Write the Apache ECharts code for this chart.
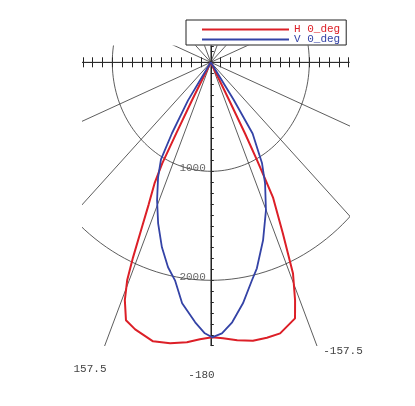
<!DOCTYPE html>
<html>
<head>
<meta charset="utf-8">
<script src="https://cdn.jsdelivr.net/npm/echarts@6/dist/echarts.min.js"></script>
<style>
html, body { margin: 0; padding: 0; background: #fff; }
#chart { width: 415px; height: 406px; }
</style>
</head>
<body>
<div id="chart"></div>
<script>
// angle from nadir in degrees (negative = 157.5 side), intensity in cd
const hAngles = [-30, -28.7, -28.3, -28, -27.2, -25.8, -24.8, -23.8, -23, -21.8, -20, -17.4, -12.9, -9.1, -5.4, -2.5, 0.3, 2.8, 6, 9.5, 12.7, 15.8, 20, 21.4, 23.3, 25, 27, 27.3, 27.6, 28, 28.2, 30];
const hValues = [0, 400, 740, 1050, 1250, 1450, 1667, 1956, 2173, 2350, 2518, 2568, 2626, 2611, 2580, 2543, 2523, 2535, 2565, 2590, 2590, 2585, 2500, 2345, 2110, 1730, 1390, 1190, 1010, 740, 400, 0];
const vAngles = [-35, -33.5, -31.2, -29.6, -26.9, -23.3, -19.9, -16.3, -13, -10.3, -7.5, -3.8, -1.4, 0.3, 2.6, 5.2, 8.4, 11.8, 13.9, 18, 22.4, 26.4, 29.3, 33, 34, 35];
const vValues = [0, 419, 761, 1024, 1183, 1379, 1571, 1768, 1930, 2033, 2230, 2391, 2487, 2523, 2489, 2395, 2235, 2043, 1947, 1717, 1469, 1239, 1063, 779, 415, 0];
const ringValues = [1000, 2000];
const spokeStep = 22.5;
const angleLabels = ["157.5", "-180", "-157.5"];
const seriesNames = ["H 0_deg", "V 0_deg"];
const colors = ["#dc1f27", "#3443a6"];

// centre of the diagram and px per cd (the picture is a bit squeezed in x)
const cx = 210.8, cy = 62.3, sx = 0.0985, sy = 0.109;
const xMin = -1300, xMax = 1400, yMin = -2600, yMax = 150;
const mono = '"Liberation Mono", "DejaVu Sans Mono", monospace';

function toXY(deg, r) {
  const a = deg * Math.PI / 180;
  return [r * Math.sin(a), -r * Math.cos(a)];
}

const gridLine = { color: "#333", width: 0.8 };
const series = [];
ringValues.forEach(function (r) {
  const pts = [];
  for (let d = 0; d <= 360; d += 2) pts.push(toXY(d, r));
  series.push({ type: "line", data: pts, symbol: "none", silent: true, lineStyle: gridLine, z: 1 });
});
for (let d = 0; d < 360; d += spokeStep) {
  series.push({ type: "line", data: [[0, 0], toXY(d, 4000)], symbol: "none", silent: true, lineStyle: gridLine, z: 1 });
}
series.push({
  type: "scatter",
  data: ringValues.map(function (r) { return [0, -r]; }),
  symbolSize: 0,
  silent: true,
  label: {
    show: true, position: "left", distance: 5, offset: [0, -3],
    formatter: function (p) { return String(-p.value[1]); },
    fontFamily: mono, fontSize: 11, color: "#444"
  },
  z: 2
});
series.push({
  name: seriesNames[0], type: "line", symbol: "none",
  data: hAngles.map(function (a, i) { return toXY(a, hValues[i]); }),
  lineStyle: { color: colors[0], width: 2 }, itemStyle: { color: colors[0] }, z: 3
});
series.push({
  name: seriesNames[1], type: "line", symbol: "none",
  data: vAngles.map(function (a, i) { return toXY(a, vValues[i]); }),
  lineStyle: { color: colors[1], width: 1.8 }, itemStyle: { color: colors[1] }, z: 4
});

const axisBase = {
  type: "value", interval: 100, min: xMin, max: xMax,
  axisLabel: { show: false },
  splitLine: { show: false }
};

const myChart = echarts.init(document.getElementById("chart"));
myChart.setOption({
  animation: false,
  backgroundColor: "#fff",
  grid: {
    left: cx + xMin * sx,
    top: cy - yMax * sy,
    width: (xMax - xMin) * sx,
    height: (yMax - yMin) * sy
  },
  xAxis: [
    Object.assign({}, axisBase, {
      position: "bottom",
      axisLine: { onZero: true, lineStyle: { color: "#222", width: 1 } },
      axisTick: { show: true, length: 5, lineStyle: { color: "#222" } }
    }),
    // upper half of the cross ticks, pulled down onto the 90/-90 line
    Object.assign({}, axisBase, {
      position: "top", offset: -yMax * sy,
      axisLine: { onZero: false, lineStyle: { color: "#222", width: 1 } },
      axisTick: { show: true, length: 5, lineStyle: { color: "#222" } }
    })
  ],
  yAxis: {
    type: "value", min: yMin, max: yMax, interval: 100, position: "left",
    axisLine: { onZero: true, lineStyle: { color: "#222", width: 1 } },
    axisTick: { show: true, inside: true, length: 3, lineStyle: { color: "#222" } },
    axisLabel: { show: false },
    splitLine: { show: false }
  },
  legend: {
    left: 186, top: 20, orient: "vertical",
    selectedMode: false,
    itemWidth: 87, itemHeight: 9, itemGap: -1, itemTextGap: 18,
    padding: [4, 6, 0, 15],
    borderColor: "#222", borderWidth: 1,
    itemStyle: { opacity: 0 },
    textStyle: { fontFamily: mono, fontSize: 11, lineHeight: 9 },
    data: [
      { name: seriesNames[0], textStyle: { color: colors[0] } },
      { name: seriesNames[1], textStyle: { color: colors[1] } }
    ]
  },
  graphic: [
    { type: "text", x: 90, y: 369, style: { text: angleLabels[0], font: "11px " + mono, fill: "#444", align: "center", verticalAlign: "middle" } },
    { type: "text", x: 201.5, y: 375.5, style: { text: angleLabels[1], font: "11px " + mono, fill: "#444", align: "center", verticalAlign: "middle" } },
    { type: "text", x: 343, y: 351.5, style: { text: angleLabels[2], font: "11px " + mono, fill: "#444", align: "center", verticalAlign: "middle" } }
  ],
  series: series
});
</script>
</body>
</html>
